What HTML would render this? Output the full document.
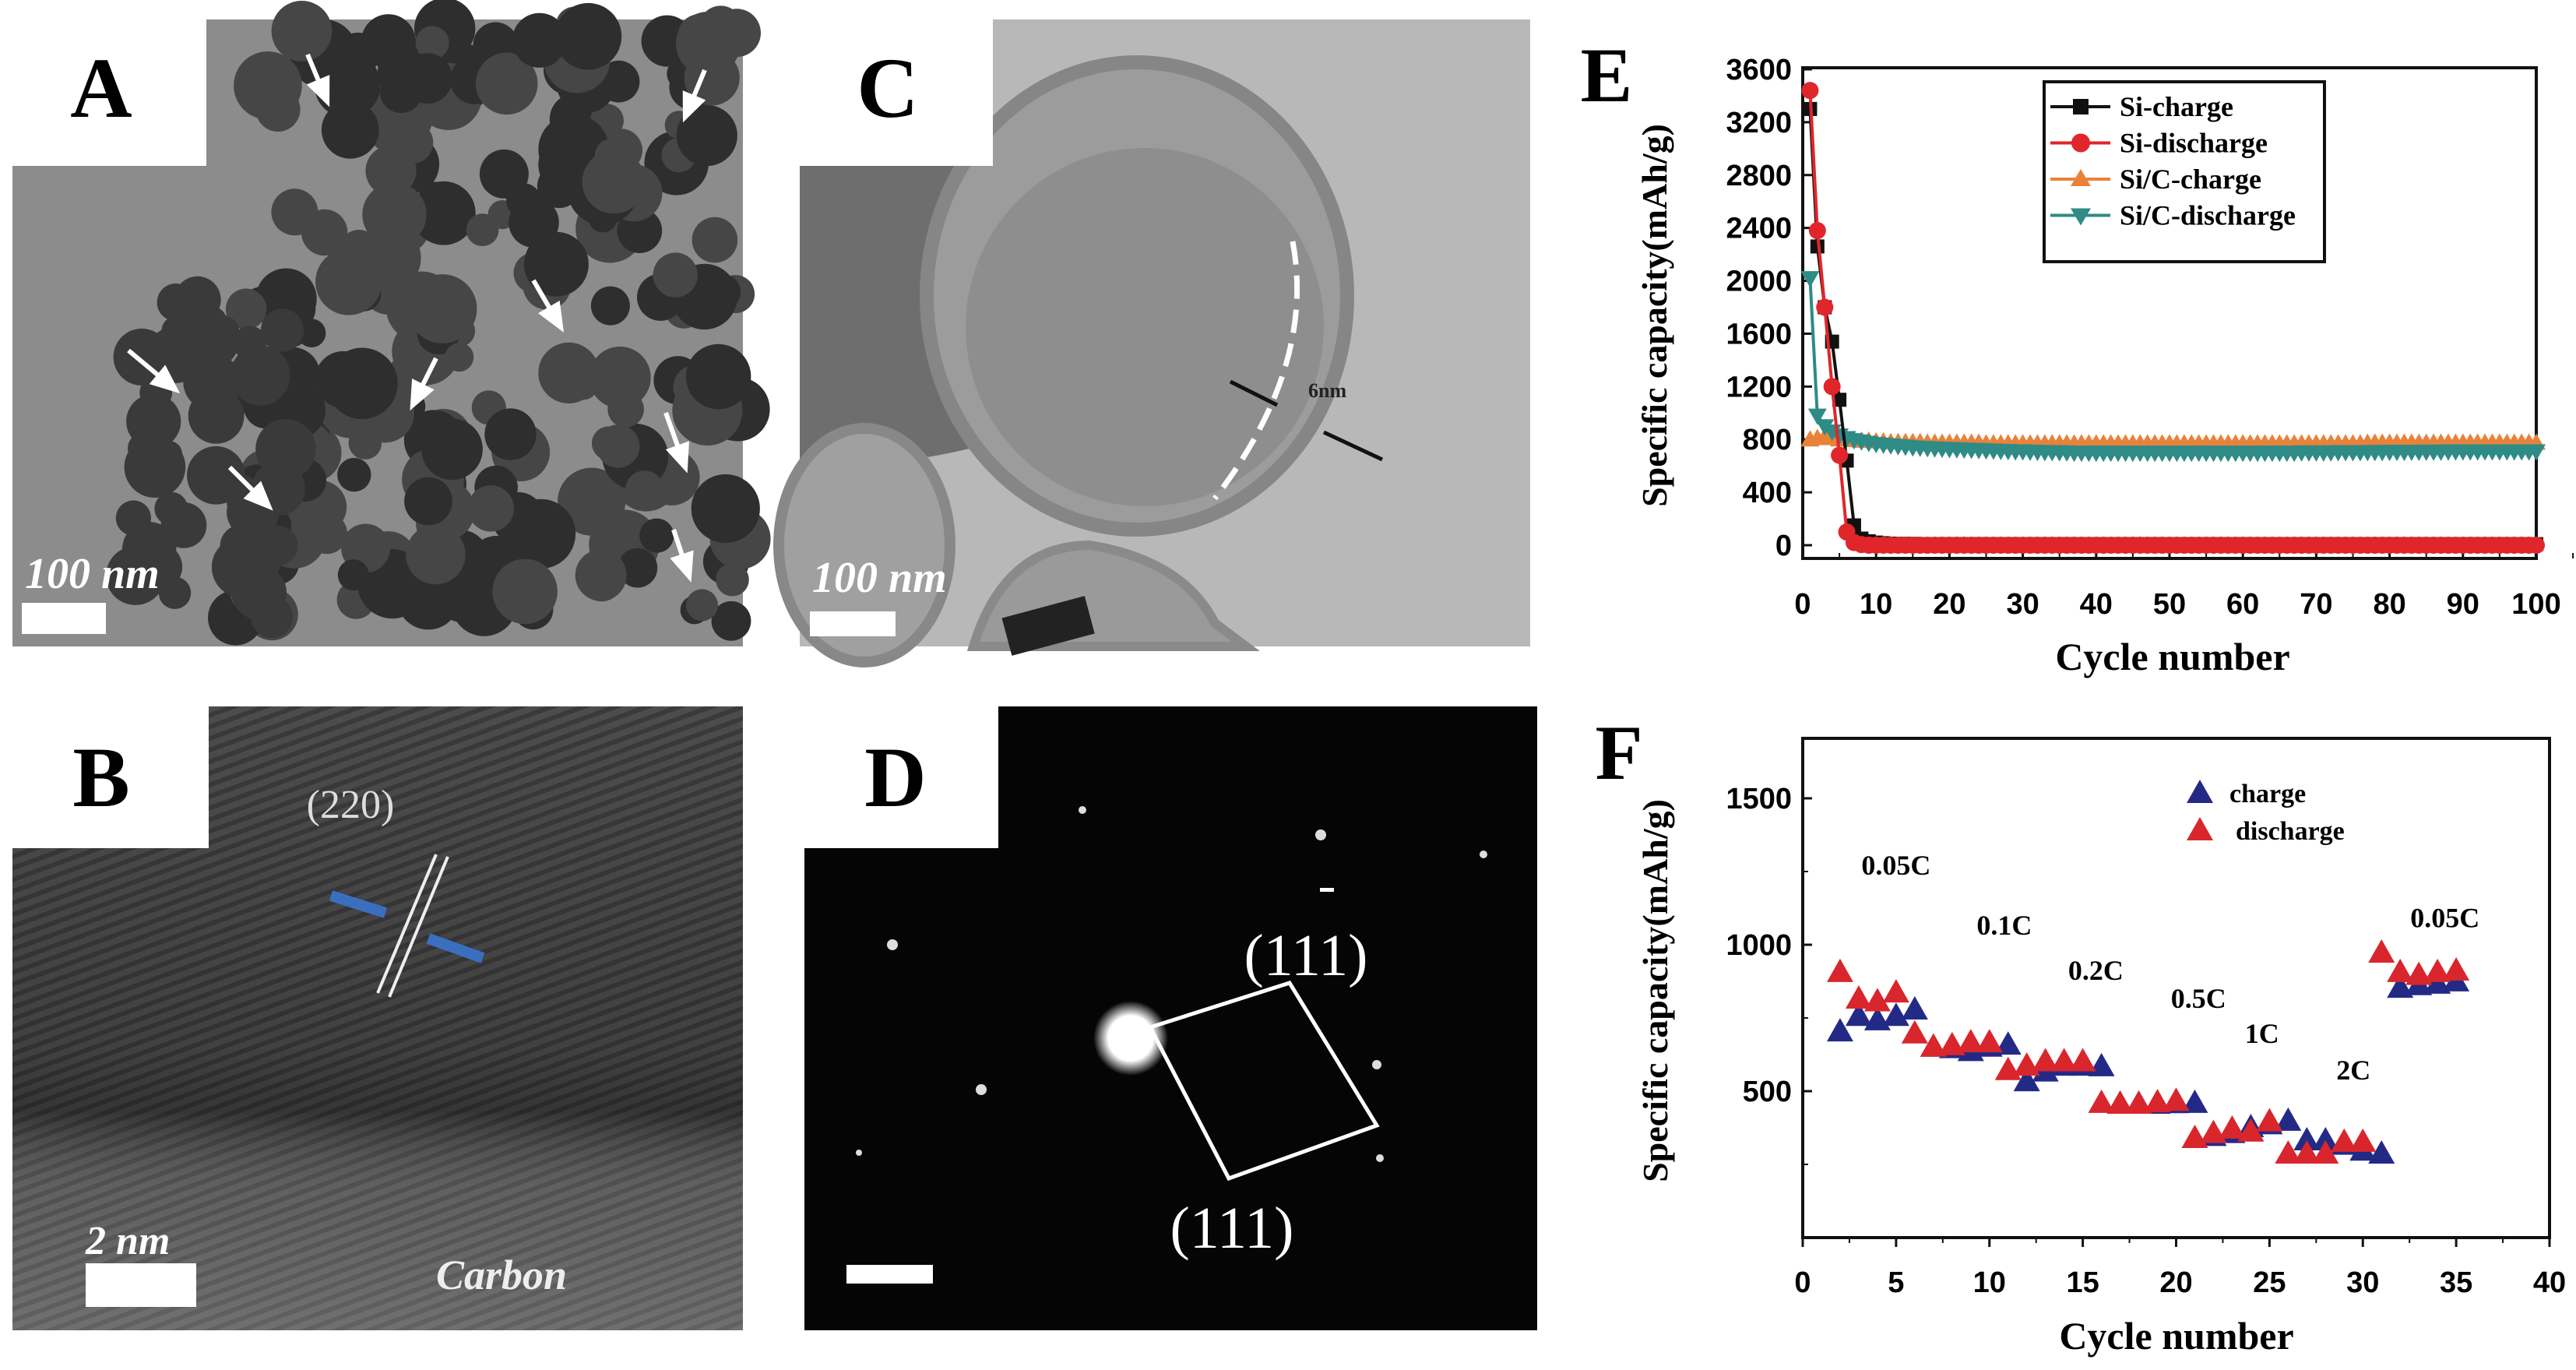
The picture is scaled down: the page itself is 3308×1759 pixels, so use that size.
<!DOCTYPE html>
<html><head><meta charset="utf-8">
<style>
html,body{margin:0;padding:0;background:#fff;}
body{width:3308px;height:1759px;position:relative;overflow:hidden;font-family:"Liberation Serif",serif;}
svg{position:absolute;left:0;top:0;}
</style></head>
<body>
<svg id="root" width="3308" height="1759" viewBox="0 0 3308 1759">
<defs>
 <radialGradient id="spot"><stop offset="0" stop-color="#fff"/><stop offset="0.6" stop-color="#fff"/><stop offset="1" stop-color="#fff" stop-opacity="0"/></radialGradient>
 <pattern id="lattice" width="14" height="14" patternUnits="userSpaceOnUse" patternTransform="rotate(70)">
  <rect width="14" height="14" fill="#4c4c4c"/><rect width="6" height="14" fill="#3a3a3a"/></pattern>
 <linearGradient id="bshade" x1="0" y1="0" x2="0" y2="1"><stop offset="0" stop-color="#000" stop-opacity="0"/><stop offset="0.55" stop-color="#000" stop-opacity="0.15"/><stop offset="0.65" stop-color="#000" stop-opacity="0.3"/><stop offset="0.8" stop-color="#fff" stop-opacity="0.12"/><stop offset="1" stop-color="#fff" stop-opacity="0.2"/></linearGradient>
</defs>

<!-- Panel A -->
<g>
 <rect x="16" y="25" width="938" height="805" fill="#8c8c8c"/>
 <g id="aParticles"></g>
 <rect x="16" y="25" width="249" height="188" fill="#fff"/>
 <text x="130" y="150" font-size="110" font-weight="bold" text-anchor="middle">A</text>
 <text x="32" y="755" font-size="56" font-style="italic" font-weight="bold" fill="#fff">100 nm</text>
 <rect x="28" y="774" width="108" height="40" fill="#fff"/>
</g>

<!-- Panel C -->
<g>
 <rect x="1027" y="25" width="938" height="805" fill="#b8b8b8"/>
 <path d="M1027 380 L1027 25 L1260 25 Q1230 200 1330 330 Q1400 470 1300 560 Q1180 600 1027 600 Z" fill="#6e6e6e"/>
 <ellipse cx="1460" cy="380" rx="270" ry="300" fill="#9c9c9c" stroke="#868686" stroke-width="18"/>
 <ellipse cx="1470" cy="420" rx="230" ry="230" fill="#8e8e8e"/>
 <ellipse cx="1110" cy="700" rx="110" ry="150" fill="#a0a0a0" stroke="#888" stroke-width="14"/>
 <path d="M1250 830 Q1290 700 1400 700 Q1520 720 1560 800 L1600 830 Z" fill="#9a9a9a" stroke="#8a8a8a" stroke-width="12"/>
 <rect x="1290" y="780" width="110" height="50" fill="#222" transform="rotate(-15 1340 800)"/>
 <path d="M1660 310 Q1690 470 1560 640" fill="none" stroke="#fff" stroke-width="7" stroke-dasharray="30 14"/>
 <line x1="1580" y1="490" x2="1640" y2="520" stroke="#111" stroke-width="5"/>
 <line x1="1700" y1="555" x2="1775" y2="590" stroke="#111" stroke-width="5"/>
 <text x="1680" y="510" font-size="26" font-weight="bold" fill="#222">6nm</text>
 <rect x="1027" y="25" width="248" height="188" fill="#fff"/>
 <text x="1140" y="150" font-size="110" font-weight="bold" text-anchor="middle">C</text>
 <text x="1043" y="760" font-size="56" font-style="italic" font-weight="bold" fill="#fff">100 nm</text>
 <rect x="1040" y="785" width="110" height="32" fill="#fff"/>
</g>

<!-- Panel B -->
<g>
 <rect x="16" y="907" width="938" height="801" fill="url(#lattice)"/>
 <rect x="16" y="907" width="938" height="801" fill="url(#bshade)"/>
 <rect x="16" y="907" width="252" height="182" fill="#fff"/>
 <text x="130" y="1035" font-size="110" font-weight="bold" text-anchor="middle">B</text>
 <text x="450" y="1050" font-size="52" fill="#ddd" text-anchor="middle">(220)</text>
 <line x1="560" y1="1097" x2="485" y2="1275" stroke="#eee" stroke-width="4"/>
 <line x1="575" y1="1100" x2="500" y2="1280" stroke="#eee" stroke-width="4"/>
 <line x1="425" y1="1150" x2="495" y2="1172" stroke="#3a6fc0" stroke-width="14"/>
 <line x1="550" y1="1205" x2="620" y2="1230" stroke="#3a6fc0" stroke-width="14"/>
 <text x="110" y="1610" font-size="52" font-style="italic" font-weight="bold" fill="#fff">2 nm</text>
 <rect x="110" y="1622" width="142" height="56" fill="#fff"/>
 <text x="560" y="1655" font-size="54" font-style="italic" font-weight="bold" fill="#eee">Carbon</text>
</g>

<!-- Panel D -->
<g>
 <rect x="1033" y="907" width="941" height="801" fill="#050505"/>
 <g fill="#ddd">
  <circle cx="1146" cy="1213" r="7"/><circle cx="1260" cy="1399" r="7"/><circle cx="1768" cy="1367" r="6"/>
  <circle cx="1905" cy="1097" r="5"/><circle cx="1696" cy="1072" r="7"/><circle cx="1772" cy="1487" r="5"/>
  <circle cx="1103" cy="1480" r="4"/><circle cx="1390" cy="1040" r="5"/>
 </g>
 <circle cx="1452" cy="1333" r="48" fill="url(#spot)"/>
 <polygon points="1477,1319 1656,1262 1768,1445 1578,1513" fill="none" stroke="#fff" stroke-width="5"/>
 <text x="1677" y="1252" font-size="76" fill="#fff" text-anchor="middle">(111)</text>
 <rect x="1695" y="1140" width="18" height="5" fill="#fff"/>
 <text x="1582" y="1602" font-size="76" fill="#fff" text-anchor="middle">(111)</text>
 <rect x="1087" y="1624" width="111" height="24" fill="#fff"/>
 <rect x="1033" y="907" width="249" height="182" fill="#fff"/>
 <text x="1150" y="1035" font-size="110" font-weight="bold" text-anchor="middle">D</text>
</g>

<!-- Panel E chart -->
<g id="chartE">
 <text x="2063" y="130" font-size="100" font-weight="bold" text-anchor="middle">E</text>
</g>
<!-- Panel F chart -->
<g id="chartF">
 <text x="2079" y="1000" font-size="100" font-weight="bold" text-anchor="middle">F</text>
</g>
</svg>

<script>
// ===== Panel E data =====
const eCycles = [1,2,3,4,5,6,7,8,9,10,11,12,13,14,15,16,17,18,19,20,21,22,23,24,25,26,27,28,29,30,31,32,33,34,35,36,37,38,39,40,41,42,43,44,45,46,47,48,49,50,51,52,53,54,55,56,57,58,59,60,61,62,63,64,65,66,67,68,69,70,71,72,73,74,75,76,77,78,79,80,81,82,83,84,85,86,87,88,89,90,91,92,93,94,95,96,97,98,99,100];
const eSiCharge = [3300,2260,1800,1540,1100,640,150,50,30,20,15,12,10,10,10,8,8,8,8,8,8,8,8,8,8,8,8,8,8,8,8,8,8,8,8,8,8,8,8,8,8,8,8,8,8,8,8,8,8,8,8,8,8,8,8,8,8,8,8,8,8,8,8,8,8,8,8,8,8,8,8,8,8,8,8,8,8,8,8,8,8,8,8,8,8,8,8,8,8,8,8,8,8,8,8,8,8,8,8,8];
const eSiDischarge = [3440,2380,1800,1200,680,100,20,5,0,0,0,0,0,0,0,0,0,0,0,0,0,0,0,0,0,0,0,0,0,0,0,0,0,0,0,0,0,0,0,0,0,0,0,0,0,0,0,0,0,0,0,0,0,0,0,0,0,0,0,0,0,0,0,0,0,0,0,0,0,0,0,0,0,0,0,0,0,0,0,0,0,0,0,0,0,0,0,0,0,0,0,0,0,0,0,0,0,0,0,0];
const eSiCCharge = [800,810,820,810,800,800,795,790,790,785,785,780,780,780,780,780,775,775,775,775,775,775,775,775,770,770,770,770,770,770,770,770,770,770,770,770,770,770,770,770,770,770,770,770,770,770,770,770,770,770,770,770,770,770,770,770,770,770,770,770,770,770,770,770,770,770,770,770,770,770,770,770,770,770,770,770,775,775,775,775,775,775,775,775,775,775,775,775,775,775,775,775,775,775,775,775,775,775,775,775];
const eSiCDischarge = [2020,980,900,860,830,810,795,785,775,765,760,755,750,745,740,738,735,732,730,728,726,724,722,720,718,716,714,712,710,710,708,706,705,704,703,702,700,700,700,700,700,700,700,700,700,700,700,700,700,700,700,700,700,700,700,700,700,700,700,700,700,700,700,700,700,700,700,702,702,702,702,702,704,704,704,704,705,705,705,706,706,706,707,707,708,708,708,709,709,710,710,710,710,710,710,710,710,710,710,710];
const eYTicks = [0,400,800,1200,1600,2000,2400,2800,3200,3600];
const eXTicks = [0,10,20,30,40,50,60,70,80,90,100];
const eLegend = ["Si-charge","Si-discharge","Si/C-charge","Si/C-discharge"];

// ===== Panel F data =====
const fChargeCycles = [2,3,4,5,6,7,8,9,10,11,12,13,14,15,16,17,18,19,20,21,22,23,24,25,26,27,28,29,30,31,32,33,34,35];
const fCharge = [707,760,745,760,782,655,650,640,655,662,537,570,590,590,588,460,460,460,462,463,350,360,380,390,402,335,335,320,300,290,856,865,870,878];
const fDischargeCycles = [2,3,4,5,6,7,8,9,10,11,12,13,14,15,16,17,18,19,20,21,22,23,24,25,26,27,28,29,30,31,32,33,34,35];
const fDischarge = [910,819,810,840,700,655,660,670,670,575,590,605,605,605,463,460,460,465,470,343,360,375,365,400,290,290,290,330,330,976,910,900,910,915];
const fYTicks = [500,1000,1500];
const fXTicks = [0,5,10,15,20,25,30,35,40];
const fRateLabels = ["0.05C","0.1C","0.2C","0.5C","1C","2C","0.05C"];
const fRateCycles = [5.0,10.8,15.7,21.2,24.6,29.5,34.4];
const fRateValues = [1240,1035,880,785,665,540,1060];

const NS = "http://www.w3.org/2000/svg";
function mk(tag, attrs, parent){const e=document.createElementNS(NS,tag);for(const k in attrs)e.setAttribute(k,attrs[k]);parent.appendChild(e);return e;}
const tickFont = '"Liberation Sans Narrow","Liberation Sans",sans-serif';

// ---- decorative particles in panel A (image texture, not chart data)
(function(){
 const g=document.getElementById('aParticles');
 let s=7;function r(){s=(s*9301+49297)%233280;return s/233280;}
 for(let i=0;i<220;i++){
  const x=300+r()*654, y=30+r()*780, rad=18+r()*28;
  if(x<420 && y<350 && r()<0.8) continue;
  if(x>600 && x<800 && y>380 && y<520 && r()<0.7) continue;
  mk('circle',{cx:x.toFixed(1),cy:y.toFixed(1),r:rad.toFixed(1),fill:r()<0.5?'#2e2e2e':'#464646'},g);
 }
 for(let i=0;i<40;i++){
  const x=170+r()*200, y=380+r()*420, rad=16+r()*24;
  mk('circle',{cx:x.toFixed(1),cy:y.toFixed(1),r:rad.toFixed(1),fill:'#3a3a3a'},g);
 }
 const arrows=[[395,70,420,130],[905,90,880,150],[685,360,720,420],[165,450,225,500],[560,460,530,520],[855,530,880,600],[295,600,345,650],[865,680,885,740]];
 arrows.forEach(a=>{
  mk('line',{x1:a[0],y1:a[1],x2:a[2],y2:a[3],stroke:'#fff','stroke-width':6},g);
  const dx=a[2]-a[0],dy=a[3]-a[1],L=Math.hypot(dx,dy),ux=dx/L,uy=dy/L;
  const bx=a[2]-ux*30,by=a[3]-uy*30;
  mk('polygon',{points:`${a[2]+ux*8},${a[3]+uy*8} ${bx-uy*16},${by+ux*16} ${bx+uy*16},${by-ux*16}`,fill:'#fff'},g);
 });
})();

// ---- Panel E
(function(){
 const g=document.getElementById('chartE');
 const X0=2315,X1=3257,Y0=700,Ytop=87,Ybot=717;
 const xs=c=>X0+(c/100)*(X1-X0);
 const ys=v=>Y0-(v/3600)*(Y0-89);
 const frame=mk('rect',{x:X0,y:Ytop,width:X1-X0,height:Ybot-Ytop,fill:'#fff',stroke:'#111','stroke-width':4},g);
 
 
 eYTicks.forEach(v=>{
  mk('line',{x1:X0,x2:X0+12,y1:ys(v),y2:ys(v),stroke:'#111','stroke-width':3},g);
  const t=mk('text',{x:X0-14,y:ys(v)+13,'font-size':38,'font-weight':'bold','text-anchor':'end','font-family':tickFont},g);
  t.textContent=v;
  
  
 });
 eXTicks.forEach(v=>{
  mk('line',{x1:xs(v),x2:xs(v),y1:Ybot,y2:Ybot-12,stroke:'#111','stroke-width':3},g);
  mk('line',{x1:xs(v+5),x2:xs(v+5),y1:Ybot,y2:Ybot-7,stroke:'#111','stroke-width':2},g);
  const t=mk('text',{x:xs(v),y:788,'font-size':38,'font-weight':'bold','text-anchor':'middle','font-family':tickFont},g);
  t.textContent=v;
  
  
 });
 const xt=mk('text',{x:2790,y:860,'font-size':50,'font-weight':'bold','text-anchor':'middle'},g);
 xt.textContent='Cycle number';
 
 
 const yt=mk('text',{x:0,y:0,'font-size':46,'font-weight':'bold','text-anchor':'middle',transform:'translate(2140,405) rotate(-90)'},g);
 yt.textContent='Specific capacity(mAh/g)';
 
 

 function series(vals,color,shape,name){
  const sg=mk('g',{},g);
  
  
  const pts=eCycles.map((c,i)=>xs(c).toFixed(1)+','+ys(vals[i]).toFixed(1)).join(' ');
  mk('polyline',{points:pts,fill:'none',stroke:color,'stroke-width':4},sg);
  eCycles.forEach((c,i)=>{
   const x=xs(c),y=ys(vals[i]);
   let m;
   if(shape==='sq') m=mk('rect',{x:x-9,y:y-9,width:18,height:18,fill:color},sg);
   else if(shape==='ci') m=mk('circle',{cx:x,cy:y,r:11,fill:color},sg);
   else if(shape==='up') m=mk('polygon',{points:`${x},${y-12} ${x-12},${y+9} ${x+12},${y+9}`,fill:color},sg);
   else m=mk('polygon',{points:`${x},${y+12} ${x-12},${y-9} ${x+12},${y-9}`,fill:color},sg);
   
   
  });
 }
 series(eSiCCharge,'#e8823a','up','series-sic-charge');
 series(eSiCDischarge,'#2e8b86','dn','series-sic-discharge');
 series(eSiCharge,'#111','sq','series-si-charge');
 series(eSiDischarge,'#e0262a','ci','series-si-discharge');

 const lg=mk('g',{},g);
 
 
 mk('rect',{x:2625,y:105,width:360,height:231,fill:'#fff',stroke:'#111','stroke-width':4},lg);
 const colors=['#111','#e0262a','#e8823a','#2e8b86'];
 const shapes=['sq','ci','up','dn'];
 eLegend.forEach((name,i)=>{
  const y=137+i*46.5;
  mk('line',{x1:2633,x2:2710,y1:y,y2:y,stroke:colors[i],'stroke-width':4},lg);
  const x=2672;
  if(shapes[i]==='sq') mk('rect',{x:x-10,y:y-10,width:20,height:20,fill:colors[i]},lg);
  else if(shapes[i]==='ci') mk('circle',{cx:x,cy:y,r:12,fill:colors[i]},lg);
  else if(shapes[i]==='up') mk('polygon',{points:`${x},${y-13} ${x-13},${y+9} ${x+13},${y+9}`,fill:colors[i]},lg);
  else mk('polygon',{points:`${x},${y+13} ${x-13},${y-9} ${x+13},${y-9}`,fill:colors[i]},lg);
  const t=mk('text',{x:2722,y:y+12,'font-size':36,'font-weight':'bold'},lg);
  t.textContent=name;
  
  
 });
})();

// ---- Panel F
(function(){
 const g=document.getElementById('chartF');
 const X0=2315,X1=3274,Ytop=948,Ybot=1589;
 const xs=c=>X0+(c/40)*(X1-X0);
 const ys=v=>Ybot-v*0.376;
 const frame=mk('rect',{x:X0,y:Ytop,width:X1-X0,height:Ybot-Ytop,fill:'#fff',stroke:'#111','stroke-width':4},g);
 
 
 [250,750,1250].forEach(v=>mk('line',{x1:X0,x2:X0+7,y1:ys(v),y2:ys(v),stroke:'#111','stroke-width':2},g));
 fYTicks.forEach(v=>{
  mk('line',{x1:X0,x2:X0+12,y1:ys(v),y2:ys(v),stroke:'#111','stroke-width':3},g);
  const t=mk('text',{x:X0-14,y:ys(v)+13,'font-size':38,'font-weight':'bold','text-anchor':'end','font-family':tickFont},g);
  t.textContent=v;
  
  
 });
 fXTicks.forEach(v=>{
  mk('line',{x1:xs(v),x2:xs(v),y1:Ybot,y2:Ybot+12,stroke:'#111','stroke-width':3},g);
  if(v<40) mk('line',{x1:xs(v+2.5),x2:xs(v+2.5),y1:Ybot,y2:Ybot+7,stroke:'#111','stroke-width':2},g);
  const t=mk('text',{x:xs(v),y:1659,'font-size':38,'font-weight':'bold','text-anchor':'middle','font-family':tickFont},g);
  t.textContent=v;
  
  
 });
 const xt=mk('text',{x:2795,y:1732,'font-size':50,'font-weight':'bold','text-anchor':'middle'},g);
 xt.textContent='Cycle number';
 
 
 const yt=mk('text',{x:0,y:0,'font-size':46,'font-weight':'bold','text-anchor':'middle',transform:'translate(2141,1272) rotate(-90)'},g);
 yt.textContent='Specific capacity(mAh/g)';
 
 

 function tri(x,y,color,p){return mk('polygon',{points:`${x},${y-16} ${x-17},${y+14} ${x+17},${y+14}`,fill:color},p);}
 const cg=mk('g',{},g);
 
 
 fChargeCycles.forEach((c,i)=>{
  const m=tri(xs(c),ys(fCharge[i]),'#232a86',cg);
  
  
 });
 const dg=mk('g',{},g);
 
 
 fDischargeCycles.forEach((c,i)=>{
  const m=tri(xs(c),ys(fDischarge[i]),'#d8262c',dg);
  
  
 });
 fRateLabels.forEach((s,i)=>{
  const t=mk('text',{x:xs(fRateCycles[i]),y:ys(fRateValues[i]),'font-size':36,'font-weight':'bold','text-anchor':'middle'},g);
  t.textContent=s;
  
  
 });
 const lg=mk('g',{},g);
 
 
 tri(2825,1017,'#232a86',lg);
 tri(2825,1065,'#d8262c',lg);
 const t1=mk('text',{x:2863,y:1030,'font-size':34,'font-weight':'bold'},lg);
 t1.textContent='charge';
 
 
 const t2=mk('text',{x:2871,y:1078,'font-size':34,'font-weight':'bold'},lg);
 t2.textContent='discharge';
 
 
})();
</script>
</body></html>
